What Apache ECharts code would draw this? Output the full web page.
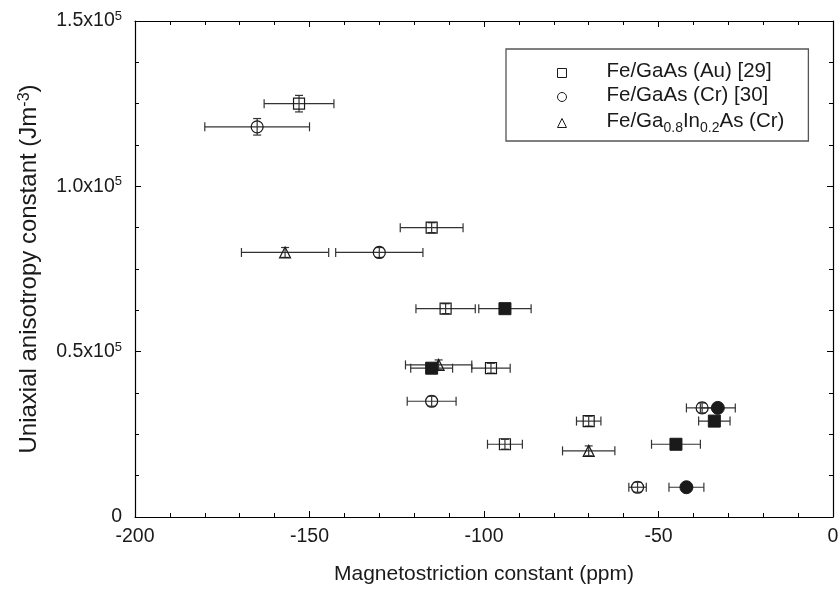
<!DOCTYPE html>
<html>
<head>
<meta charset="utf-8">
<script src="https://cdn.jsdelivr.net/npm/echarts@6/dist/echarts.min.js"></script>
<style>html,body{margin:0;padding:0;background:#fff}#c{width:839px;height:590px}</style>
</head>
<body>
<div id="c"></div>
<script>
// ---- data ----
const seriesNames = ['Fe/GaAs (Au) [29]', 'Fe/GaAs (Cr) [30]', 'Fe/Ga0.8In0.2As (Cr)'];

const auX    = [-153, -115, -111, -98, -70, -94];
const auY    = [125000, 87500, 63000, 45000, 29000, 22000];
const auXErr = [10, 9, 8.5, 5.5, 3.5, 5];
const auYErr = [2500, 1500, 1500, 1500, 1500, 1500];

const crX    = [-165, -130, -115, -37.5, -56];
const crY    = [118000, 80000, 35000, 33000, 9000];
const crXErr = [15, 12.5, 7, 4.5, 2.5];
const crYErr = [2500, 1500, 1500, 1500, 1500];

const inX    = [-157, -113, -70];
const inY    = [80000, 46000, 20000];
const inXErr = [12.5, 9.5, 7.5];
const inYErr = [1500, 1500, 1500];

const fsqX    = [-94, -115, -34, -45];
const fsqY    = [63000, 45000, 29000, 22000];
const fsqXErr = [7.5, 6, 4.5, 7];
const fsqYErr = [1000, 1000, 1000, 1000];

const fciX    = [-33, -42];
const fciY    = [33000, 9000];
const fciXErr = [5, 5];
const fciYErr = [1000, 1000];

const xTickValues = [-200, -150, -100, -50, 0];
const yTickValues = [0, 50000, 100000, 150000];
const yTickMantissas = ['0', '0.5', '1.0', '1.5'];

// ---- helpers ----
function pts(xs, ys) { return xs.map((x, i) => [x, ys[i]]); }
function errRows(xs, ys, xe, ye) { return xs.map((x, i) => [x, ys[i], xe[i], ye[i]]); }

const FONT = 'Liberation Sans, Arial, Helvetica, sans-serif';
const INK = '#1a1a1a';
const BAR = '#333';

function errorSeries(rows) {
  return {
    type: 'custom',
    data: rows,
    z: 1,
    silent: true,
    encode: { x: 0, y: 1 },
    renderItem: function (params, api) {
      const x = api.value(0), y = api.value(1), xe = api.value(2), ye = api.value(3);
      const L = api.coord([x - xe, y]);
      const R = api.coord([x + xe, y]);
      const B = api.coord([x, y - ye]);
      const T = api.coord([x, y + ye]);
      const st = { stroke: BAR, lineWidth: 1.2, fill: null };
      const cap = 4.5, vcap = 4;
      return {
        type: 'group',
        children: [
          { type: 'line', shape: { x1: L[0], y1: L[1], x2: R[0], y2: R[1] }, style: st },
          { type: 'line', shape: { x1: L[0], y1: L[1] - cap, x2: L[0], y2: L[1] + cap }, style: st },
          { type: 'line', shape: { x1: R[0], y1: R[1] - cap, x2: R[0], y2: R[1] + cap }, style: st },
          { type: 'line', shape: { x1: B[0], y1: B[1], x2: T[0], y2: T[1] }, style: st },
          { type: 'line', shape: { x1: B[0] - vcap, y1: B[1], x2: B[0] + vcap, y2: B[1] }, style: st },
          { type: 'line', shape: { x1: T[0] - vcap, y1: T[1], x2: T[0] + vcap, y2: T[1] }, style: st }
        ]
      };
    }
  };
}

function openSeries(name, data, symbol, size) {
  return {
    name: name, type: 'scatter', data: data, symbol: symbol, symbolSize: size, z: 3,
    itemStyle: { color: 'rgba(255,255,255,0)', borderColor: INK, borderWidth: 1.2, opacity: 1 },
    emphasis: { disabled: true }
  };
}
function filledSeries(name, data, symbol, size) {
  return {
    name: name, type: 'scatter', data: data, symbol: symbol, symbolSize: size, z: 3,
    itemStyle: { color: INK, borderColor: INK, borderWidth: 1, opacity: 1 },
    emphasis: { disabled: true }
  };
}

const axisCommon = {
  axisLine: { show: true, onZero: false, lineStyle: { color: '#000', width: 1.2 } },
  axisTick: { show: true, inside: true, length: 6, lineStyle: { color: '#000', width: 1 } },
  minorTick: { show: true, length: 4, lineStyle: { color: '#000', width: 1 } },
  splitLine: { show: false }
};

const chart = echarts.init(document.getElementById('c'), null, { renderer: 'canvas' });

const option = {
  animation: false,
  backgroundColor: '#fff',
  textStyle: { fontFamily: FONT },
  grid: { left: 135, right: 6, top: 21, bottom: 73, containLabel: false, outerBoundsMode: 'none' },
  legend: {
    data: seriesNames,
    orient: 'vertical',
    left: 506, top: 49,
    padding: [12, 24, 6, 51],
    itemGap: 3,
    itemWidth: 9, itemHeight: 9,
    borderColor: '#555', borderWidth: 1.3, borderRadius: 0,
    selectedMode: false,
    itemStyle: { borderWidth: 1 },
    textStyle: {
      fontFamily: FONT, color: INK, fontSize: 20.5, padding: [0, 0, 0, 35],
      rich: {
        t: { fontFamily: FONT, fontSize: 20.5, lineHeight: 24, color: INK, verticalAlign: 'top' },
        s: { fontFamily: FONT, fontSize: 14, lineHeight: 14, color: INK, verticalAlign: 'bottom', padding: [12, 0, 0, 0] }
      }
    },
    formatter: function (name) {
      if (name === seriesNames[2]) return '{t|Fe/Ga}{s|0.8}{t|In}{s|0.2}{t|As (Cr)}';
      return '{t|' + name + '}';
    }
  },
  xAxis: [
    Object.assign({}, axisCommon, {
      type: 'value', min: -200, max: 0, interval: 50, position: 'bottom',
      minorTick: Object.assign({}, axisCommon.minorTick, { splitNumber: 5 }),
      axisLabel: { show: true, margin: 10, fontFamily: FONT, fontSize: 19.5, color: INK,
        formatter: function (v) { return xTickValues.indexOf(v) >= 0 ? String(v) : ''; } },
      name: 'Magnetostriction constant (ppm)', nameLocation: 'middle', nameGap: 47,
      nameTextStyle: { fontFamily: FONT, fontSize: 21, color: INK }
    }),
    Object.assign({}, axisCommon, {
      type: 'value', min: -200, max: 0, interval: 50, position: 'top',
      minorTick: Object.assign({}, axisCommon.minorTick, { splitNumber: 5 }),
      axisLabel: { show: false }
    })
  ],
  yAxis: [
    Object.assign({}, axisCommon, {
      type: 'value', min: 0, max: 150000, interval: 50000, position: 'left',
      minorTick: Object.assign({}, axisCommon.minorTick, { splitNumber: 4 }),
      axisLabel: {
        show: true, margin: 13, fontFamily: FONT, fontSize: 19.5, color: INK,
        formatter: function (v) {
          const i = yTickValues.indexOf(v);
          if (i < 0) return '';
          if (v === 0) return '{a|0}';
          return '{a|' + yTickMantissas[i] + 'x10}{p|5}';
        },
        rich: {
          a: { fontFamily: FONT, fontSize: 19.5, lineHeight: 22, color: INK },
          p: { fontFamily: FONT, fontSize: 13, lineHeight: 13, color: INK, verticalAlign: 'top', padding: [0, 0, 12, 0] }
        }
      },
      name: '{a|Uniaxial anisotropy constant (Jm}{p|-3}{a|)}', nameLocation: 'middle', nameGap: 84,
      nameTextStyle: {
        fontFamily: FONT, fontSize: 24, color: INK,
        rich: {
          a: { fontFamily: FONT, fontSize: 24, lineHeight: 26, color: INK },
          p: { fontFamily: FONT, fontSize: 16, lineHeight: 16, color: INK, verticalAlign: 'top', padding: [0, 0, 13, 0] }
        }
      }
    }),
    Object.assign({}, axisCommon, {
      type: 'value', min: 0, max: 150000, interval: 50000, position: 'right',
      minorTick: Object.assign({}, axisCommon.minorTick, { splitNumber: 4 }),
      axisLabel: { show: false }
    })
  ],
  series: [
    errorSeries(errRows(auX, auY, auXErr, auYErr)),
    errorSeries(errRows(crX, crY, crXErr, crYErr)),
    errorSeries(errRows(inX, inY, inXErr, inYErr)),
    errorSeries(errRows(fsqX, fsqY, fsqXErr, fsqYErr)),
    errorSeries(errRows(fciX, fciY, fciXErr, fciYErr)),
    openSeries(seriesNames[0], pts(auX, auY), 'rect', 11),
    openSeries(seriesNames[1], pts(crX, crY), 'circle', 12),
    openSeries(seriesNames[2], pts(inX, inY), 'triangle', 11),
    filledSeries('Fe/GaAs (Au) filled', pts(fsqX, fsqY), 'rect', 12),
    filledSeries('Fe/GaAs (Cr) filled', pts(fciX, fciY), 'circle', 13)
  ]
};
chart.setOption(option);
</script>
</body>
</html>
